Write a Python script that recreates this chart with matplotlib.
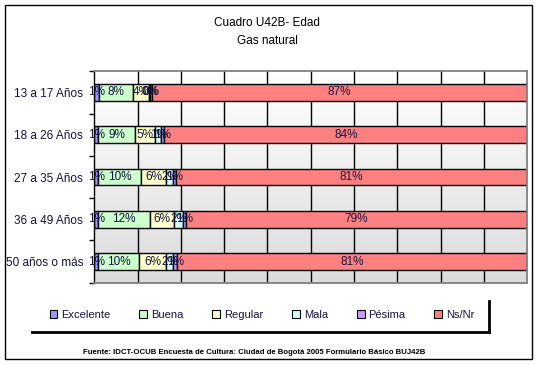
import numpy as np
import matplotlib
matplotlib.use("Agg")
import matplotlib.pyplot as plt
from matplotlib.patches import Patch, Rectangle
from matplotlib.lines import Line2D

plt.rcParams['font.family'] = ['Liberation Sans', 'DejaVu Sans']

categories = ["13 a 17 Años", "18 a 26 Años", "27 a 35 Años", "36 a 49 Años", "50 años o más"]
series_names = ["Excelente", "Buena", "Regular", "Mala", "Pésima", "Ns/Nr"]
excelente = [1.2, 0.9, 0.9, 0.9, 0.9]
buena = [7.8, 8.6, 9.9, 11.9, 9.5]
regular = [3.6, 4.6, 5.7, 5.6, 6.1]
mala = [0.3, 1.4, 1.7, 2.1, 1.7]
pesima = [0.4, 0.7, 0.6, 0.6, 1.0]
nsnr = [86.7, 83.8, 81.2, 78.9, 80.8]
series = [excelente, buena, regular, mala, pesima, nsnr]
colors = ["#9999FF", "#CCFFCC", "#FFFFCC", "#CCFFFF", "#CC99FF", "#FF8080"]

W, H = 538, 365
fig = plt.figure(figsize=(W/100, H/100), dpi=100)
fig.patch.set_facecolor("white")

# outer frame
fig.patches.append(Rectangle((5/W, 1 - 359/H), (531.7-5)/W, (359-5)/H,
                             transform=fig.transFigure, fill=False,
                             edgecolor="black", linewidth=1.0))

L, R, T, B = 94.3, 527.3, 71.3, 282.7
ax = fig.add_axes([L/W, 1 - B/H, (R-L)/W, (B-T)/H])

n = len(categories)
ypos = np.arange(n)
ax.set_xlim(0, 100)
ax.set_ylim(n - 0.5, -0.5)

# gradient background
grad = np.linspace(1.0, 0.86, 256).reshape(-1, 1)
ax.imshow(np.dstack([grad, grad, grad]), extent=[0, 100, n - 0.5, -0.5],
          aspect='auto', zorder=0, interpolation='bilinear')

for xv in range(10, 100, 10):
    ax.axvline(xv, color="black", linewidth=1.0, zorder=1)

txtcol = "#141440"
left = np.zeros(n)
for name, vals, col in zip(series_names, series, colors):
    vals = np.array(vals)
    ax.barh(ypos, vals, left=left, height=0.40, color=col,
            edgecolor="black", linewidth=1.0, zorder=2, label=name)
    for i in range(n):
        ax.text(left[i] + vals[i] / 2, ypos[i], f"{round(vals[i]):.0f}%",
                ha="center", va="center", fontsize=8.5, color=txtcol, zorder=3)
    left += vals

ax.set_yticks(np.arange(-0.5, n, 1.0))
ax.set_yticklabels([])
ax.set_yticks(ypos, minor=True)
ax.set_yticklabels(categories, minor=True)
ax.tick_params(axis='y', which='major', length=3.5, width=1.0, direction='out', color='black')
ax.tick_params(axis='y', which='minor', length=0, pad=8.0, labelsize=8.5, labelcolor=txtcol)
ax.set_xticks([])
for s in ["top", "right", "bottom"]:
    ax.spines[s].set_color("#808080")
    ax.spines[s].set_linewidth(1.3)
ax.spines["left"].set_color("black")
ax.spines["left"].set_linewidth(1.0)

# titles
fig.text(267/W, 1 - 23/H, "Cuadro U42B- Edad", ha="center", va="center", fontsize=8.5)
fig.text(267/W, 1 - 41/H, "Gas natural", ha="center", va="center", fontsize=8.5)

# legend
handles = [Patch(facecolor=c, edgecolor="black", linewidth=0.8, label=nm)
           for nm, c in zip(series_names, colors)]
leg = fig.legend(handles=handles, loc="center", bbox_to_anchor=(262/W, 1 - 315/H),
                 ncol=6, frameon=False, fontsize=8, handlelength=0.7, handleheight=0.7,
                 handletextpad=0.35, columnspacing=2.6)
for t in leg.get_texts():
    t.set_color(txtcol)

fig.add_artist(Line2D([32/W, 489/W], [1 - 332/H, 1 - 332/H], transform=fig.transFigure,
                      color="black", linewidth=2.0))
fig.add_artist(Line2D([489/W, 489/W], [1 - 301/H, 1 - 332/H], transform=fig.transFigure,
                      color="black", linewidth=2.0))

fig.text(254/W, 1 - 353/H,
         "Fuente: IDCT-OCUB Encuesta de Cultura: Ciudad de Bogotá 2005 Formulario Básico BUJ42B",
         ha="center", va="center", fontsize=5.6, fontweight="bold")

fig.savefig("out.png", dpi=100)
